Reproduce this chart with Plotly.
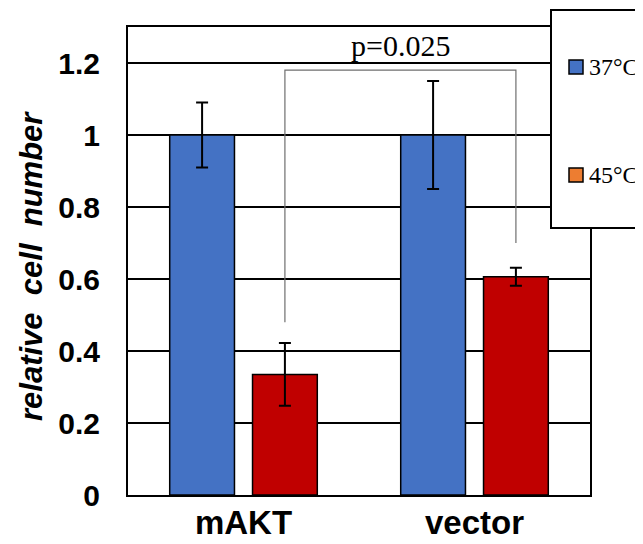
import plotly.graph_objects as go

categories = ["mAKT", "vector"]
series_names = ["37°C", "45°C"]
values_37 = [1.0, 1.0]
errors_37 = [0.09, 0.15]
values_45 = [0.335, 0.606]
errors_45 = [0.087, 0.025]
y_ticks = [0, 0.2, 0.4, 0.6, 0.8, 1.0, 1.2]
y_tick_labels = ["0", "0.2", "0.4", "0.6", "0.8", "1", "1.2"]
p_label = "p=0.025"
bracket_top = 1.18
bracket_left_bottom = 0.48
bracket_right_bottom = 0.70

bar_colors = ["#4472C4", "#C00000"]
legend_colors = ["#4472C4", "#ED7D31"]

BARGAP = 0.283
BARGROUPGAP = 0.218

OFF = 8  # page body margin
W, H = 643 - OFF, 544 - OFF
L, R, T, B = 120, 53, 19, 49
pw = W - L - R
ph = H - T - B


def px_x(vx):
    return (vx - OFF - L) / pw


def px_y(vy):
    return 1 - (vy - OFF - T) / ph


fig = go.Figure()
err_style = dict(type="data", visible=True, color="black", thickness=2, width=6)
fig.add_trace(go.Bar(x=categories, y=values_37, name=series_names[0],
                     marker=dict(color=bar_colors[0], line=dict(color="black", width=1.5)),
                     error_y=dict(array=errors_37, **err_style), showlegend=False))
fig.add_trace(go.Bar(x=categories, y=values_45, name=series_names[1],
                     marker=dict(color=bar_colors[1], line=dict(color="black", width=1.5)),
                     error_y=dict(array=errors_45, **err_style), showlegend=False))

# offset of second bar center within a group (category units)
slot = (1 - BARGAP) / 2
offset45 = slot / 2
xl = 0 + offset45
xr = 1 + offset45

shapes = [
    dict(type="path", xref="x", yref="y",
         path=f"M {xl} {bracket_left_bottom} L {xl} {bracket_top} L {xr} {bracket_top} L {xr} {bracket_right_bottom}",
         line=dict(color="#6f6f6f", width=1.2)),
]

shapes.append(dict(type="rect", xref="paper", yref="paper",
                   x0=px_x(551), x1=px_x(720), y0=px_y(228), y1=px_y(10),
                   line=dict(color="black", width=2), fillcolor="white", layer="above"))
annotations = []
legend_rows = [67, 175]
serif = "Liberation Serif, Times New Roman, serif"
sans = "Liberation Sans, Arial, sans-serif"
for name, col, yy in zip(series_names, legend_colors, legend_rows):
    shapes.append(dict(type="rect", xref="paper", yref="paper",
                       x0=px_x(569), x1=px_x(583), y0=px_y(yy + 7), y1=px_y(yy - 7),
                       line=dict(color="black", width=1.5), fillcolor=col, layer="above"))
    annotations.append(dict(text=name, xref="paper", yref="paper", x=px_x(587), y=px_y(yy),
                            xanchor="left", yanchor="middle", showarrow=False,
                            font=dict(family=serif, size=24, color="black")))

annotations.append(dict(text=p_label, xref="x", yref="y", x=(xl + xr) / 2, y=1.25,
                        xanchor="center", yanchor="middle", showarrow=False,
                        font=dict(family=serif, size=30, color="black")))
annotations.append(dict(text="<b><i>relative&nbsp; cell&nbsp; number</i></b>", xref="paper", yref="paper",
                        x=px_x(31), y=px_y(266), textangle=-90, xanchor="center", yanchor="middle",
                        showarrow=False,
                        font=dict(family=sans, size=31, color="black")))

fig.update_layout(
    width=W, height=H,
    margin=dict(l=L, r=R, t=T, b=B, autoexpand=False),
    paper_bgcolor="white", plot_bgcolor="white",
    barmode="group", bargap=BARGAP, bargroupgap=BARGROUPGAP,
    shapes=shapes, annotations=annotations,
    showlegend=False,
    font=dict(family=sans, color="black"),
)
fig.update_yaxes(range=[0, 1.3], tickvals=y_ticks, ticktext=y_tick_labels,
                 showgrid=True, gridcolor="black", gridwidth=1.5,
                 showline=True, linecolor="black", linewidth=2, mirror=True,
                 ticks="", ticklabelstandoff=20, zeroline=False, automargin=False,
                 tickfont=dict(family=sans, size=30, color="black", weight="bold"))
fig.update_xaxes(range=[-0.5, 1.5], showline=True, linecolor="black", linewidth=2, mirror=True,
                 ticks="", ticklabelstandoff=-3, showgrid=False, automargin=False,
                 tickfont=dict(family=sans, size=33, color="black", weight="bold"))

fig.write_html("out.html")
